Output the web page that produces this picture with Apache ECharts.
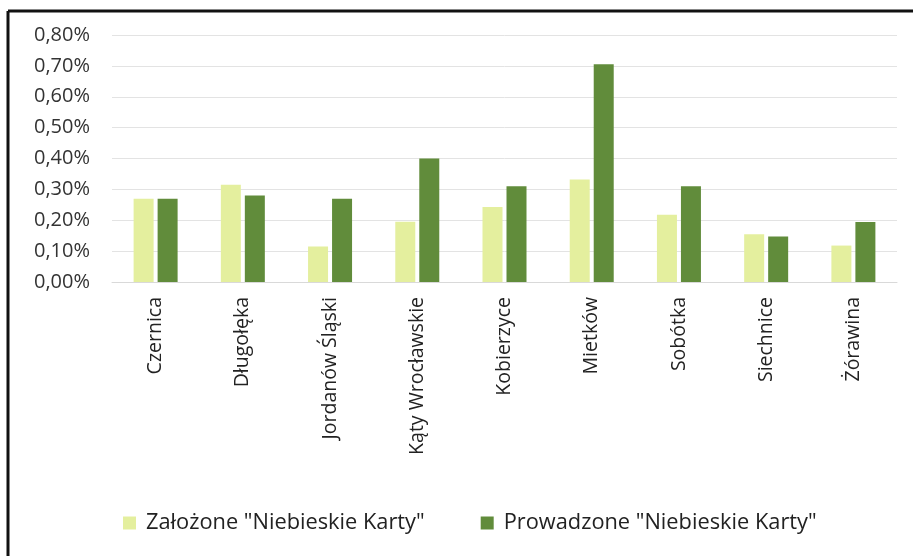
<!DOCTYPE html>
<html>
<head>
<meta charset="utf-8">
<script src="https://cdn.jsdelivr.net/npm/echarts@6/dist/echarts.min.js"></script>
<style>
html,body{margin:0;padding:0;background:#fff;}
#c{width:913px;height:556px;}
</style>
</head>
<body>
<div id="c"></div>
<script>
const categories = ["Czernica","Długołęka","Jordanów Śląski","Kąty Wrocławskie","Kobierzyce","Mietków","Sobótka","Siechnice","Żórawina"];
const zalozone = [0.27, 0.315, 0.115, 0.195, 0.243, 0.332, 0.218, 0.155, 0.118];
const prowadzone = [0.27, 0.28, 0.27, 0.40, 0.31, 0.705, 0.31, 0.147, 0.194];
const seriesNames = ['Założone "Niebieskie Karty"', 'Prowadzone "Niebieskie Karty"'];
const yTicks = [0, 0.1, 0.2, 0.3, 0.4, 0.5, 0.6, 0.7, 0.8];

const font = '"Open Sans", "Liberation Sans", sans-serif';
const chart = echarts.init(document.getElementById('c'));
chart.setOption({
  animation: false,
  backgroundColor: '#fff',
  grid: {left: 112, right: 16, top: 35, bottom: 274},
  legend: {
    data: seriesNames,
    bottom: 17,
    left: 118,
    itemWidth: 13, itemHeight: 13,
    itemGap: 56,
    icon: 'rect',
    textStyle: {fontFamily: font, fontSize: 21.8, color: '#222', padding: [0, 0, 0, 5]}
  },
  xAxis: {
    type: 'category',
    data: categories,
    axisLine: {lineStyle: {color: '#d9d9d9'}},
    axisTick: {show: false},
    axisLabel: {rotate: 90, fontFamily: font, fontSize: 19.5, color: '#222', margin: 15, interval: 0}
  },
  yAxis: {
    type: 'value',
    min: yTicks[0], max: yTicks[yTicks.length-1], interval: 0.1,
    axisLine: {show: false},
    axisTick: {show: false},
    splitLine: {lineStyle: {color: '#e3e3e3'}},
    axisLabel: {
      fontFamily: font, fontSize: 20, color: '#333', margin: 22,
      formatter: v => v.toFixed(2).replace('.', ',') + '%'
    }
  },
  series: [
    {name: seriesNames[0], type: 'bar', data: zalozone, barWidth: 20, barGap: '20%', itemStyle: {color: '#e4ef9e'}},
    {name: seriesNames[1], type: 'bar', data: prowadzone, barWidth: 20, itemStyle: {color: '#618c3b'}}
  ],
  graphic: [
    {type: 'line', shape: {x1: 8, y1: 11, x2: 913, y2: 11}, style: {stroke: '#111', lineWidth: 3}},
    {type: 'line', shape: {x1: 8, y1: 11, x2: 8, y2: 556}, style: {stroke: '#111', lineWidth: 3}}
  ]
});
</script>
</body>
</html>
